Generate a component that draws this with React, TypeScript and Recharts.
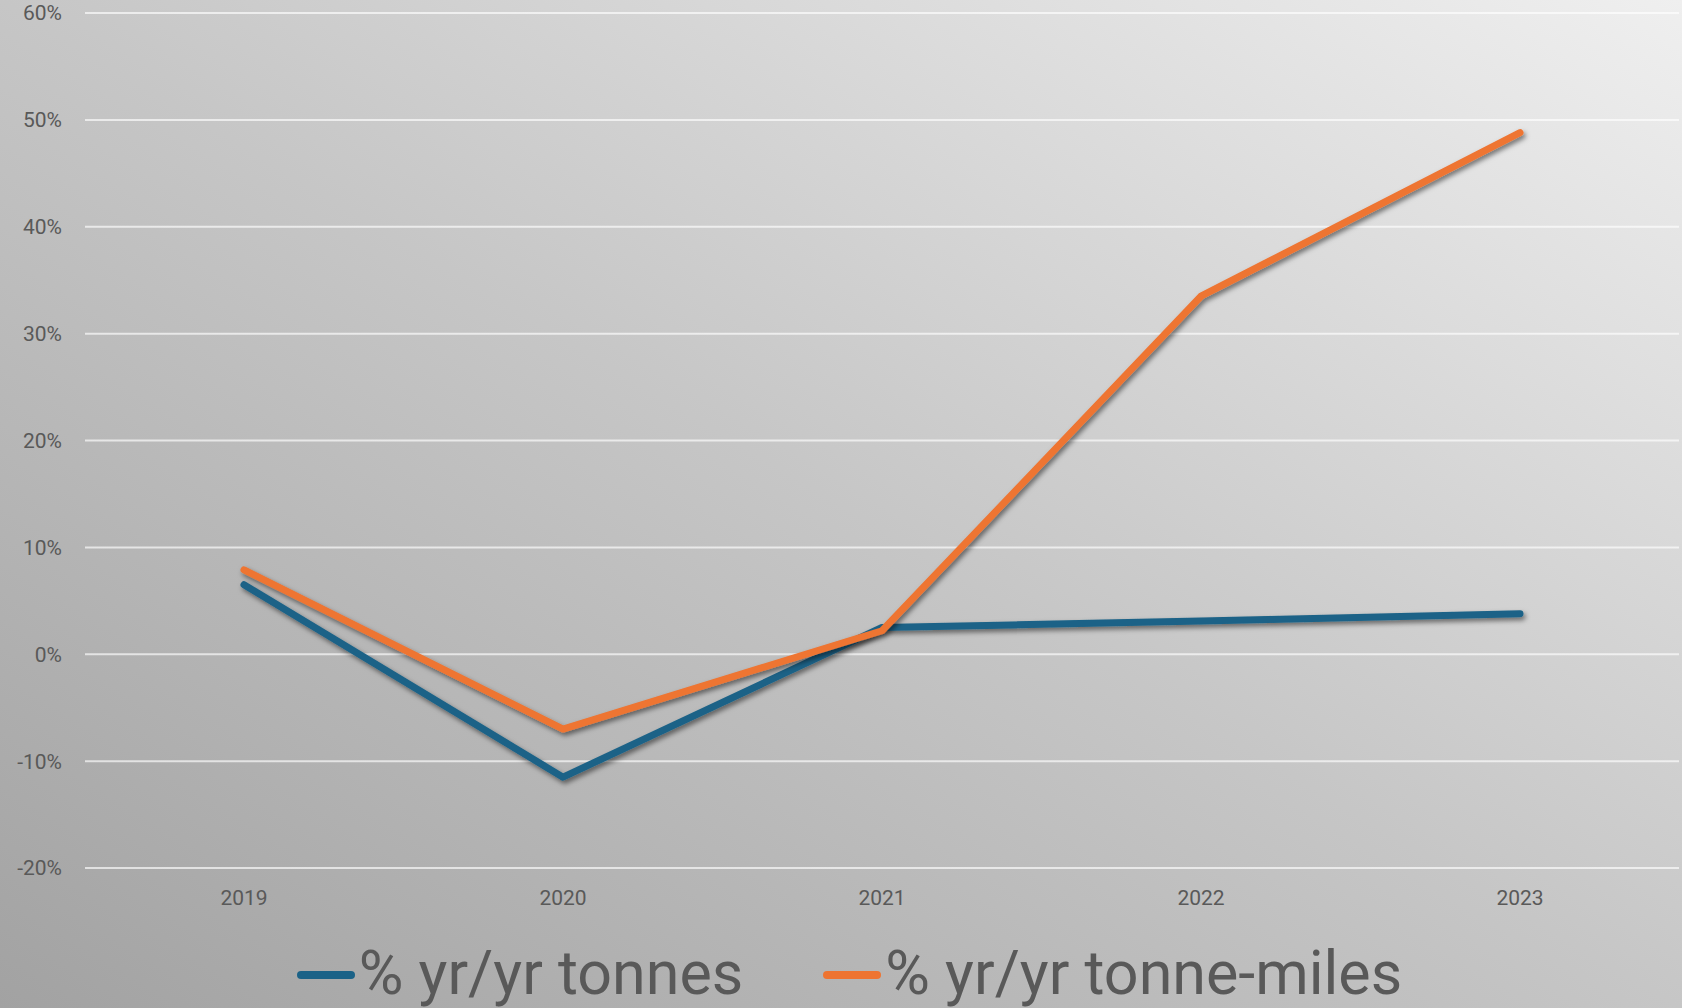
import React from 'react';
import { LineChart, Line, XAxis, YAxis, CartesianGrid, Legend } from 'recharts';

const years = ['2019', '2020', '2021', '2022', '2023'];
const tonnes = [6.5, -11.5, 2.5, 3.1, 3.8];
const tonneMiles = [7.9, -7.0, 2.2, 33.5, 48.8];
const yTicks = [-20, -10, 0, 10, 20, 30, 40, 50, 60];

const BLUE = '#1b6287';
const ORANGE = '#ee7431';
const FONT = 'Roboto, "Noto Sans", sans-serif';

const chartData = years.map((year, i) => ({
  year,
  tonnes: tonnes[i],
  tonneMiles: tonneMiles[i],
}));

const LegendContent = () => {
  const items = [
    { label: '% yr/yr tonnes', color: BLUE },
    { label: '% yr/yr tonne-miles', color: ORANGE },
  ];
  return (
    <div
      style={{
        height: 80,
        display: 'flex',
        justifyContent: 'center',
        alignItems: 'center',
        gap: 80,
        paddingTop: 10,
        paddingLeft: 20,
        boxSizing: 'border-box',
        fontFamily: FONT,
      }}
    >
      {items.map((item) => (
        <div key={item.label} style={{ display: 'flex', alignItems: 'center' }}>
          <div style={{ width: 58, height: 8, borderRadius: 4, background: item.color, marginRight: 4, marginTop: 4 }} />
          <span style={{ fontSize: 61, color: '#595959', lineHeight: 1.15, whiteSpace: 'nowrap' }}>{item.label}</span>
        </div>
      ))}
    </div>
  );
};

const App: React.FC = () => {
  const tick = { fontSize: 21, fill: '#595959', fontFamily: FONT };
  return (
    <div
      style={{
        position: 'absolute',
        left: 0,
        top: 0,
        width: 1682,
        height: 1008,
        background: 'linear-gradient(to top right, #a2a2a2 0%, #c6c6c6 50%, #efefef 100%)',
      }}
    >
      <LineChart width={1682} height={1008} data={chartData} margin={{ top: 13, right: 3, bottom: 0, left: 0 }}>
        <defs>
          <filter id="lineShadow" x="-10%" y="-10%" width="120%" height="130%">
            <feDropShadow dx="2" dy="3" stdDeviation="2.5" floodColor="#000" floodOpacity="0.5" />
          </filter>
        </defs>
        <CartesianGrid vertical={false} stroke="rgba(255,255,255,0.65)" strokeWidth={2} />
        <XAxis
          dataKey="year"
          axisLine={false}
          tickLine={false}
          tickSize={0}
          tickMargin={22}
          height={60}
          tick={tick}
          padding={{ left: 159, right: 159 }}
        />
        <YAxis
          domain={[-20, 60]}
          ticks={yTicks}
          tickFormatter={(v: number) => `${v}%`}
          axisLine={false}
          tickLine={false}
          tickSize={0}
          tickMargin={23}
          width={85}
          tick={tick}
        />
        <Legend verticalAlign="bottom" content={<LegendContent />} />
        <Line
          dataKey="tonnes"
          stroke={BLUE}
          strokeWidth={7}
          strokeLinecap="round"
          strokeLinejoin="round"
          dot={false}
          activeDot={false}
          filter="url(#lineShadow)"
          isAnimationActive={false}
        />
        <Line
          dataKey="tonneMiles"
          stroke={ORANGE}
          strokeWidth={7}
          strokeLinecap="round"
          strokeLinejoin="round"
          dot={false}
          activeDot={false}
          filter="url(#lineShadow)"
          isAnimationActive={false}
        />
      </LineChart>
    </div>
  );
};

export default App;
